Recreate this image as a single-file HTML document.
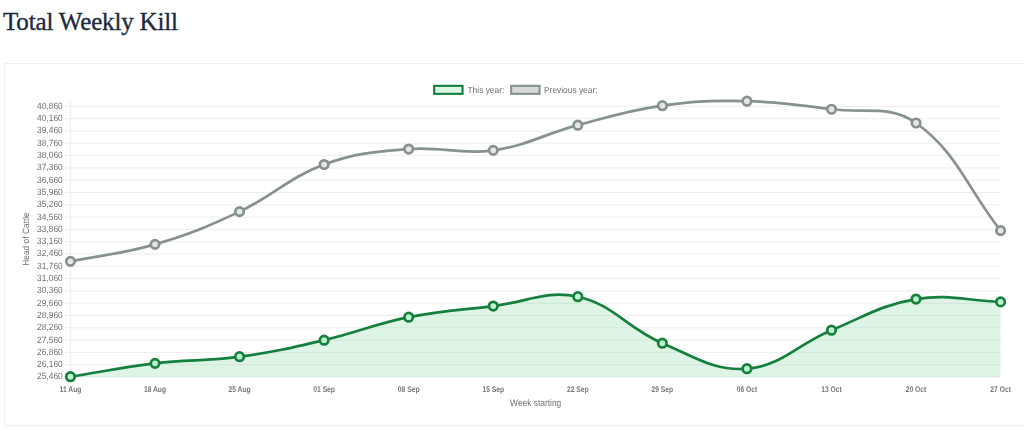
<!DOCTYPE html>
<html><head><meta charset="utf-8"><style>
html,body{margin:0;padding:0;background:#fff;width:1024px;height:431px;overflow:hidden;}
h1{position:absolute;left:3px;top:9px;margin:0;font-family:"Liberation Serif",serif;font-weight:normal;font-size:25px;color:#1c2a3f;line-height:1;letter-spacing:-0.17px;-webkit-text-stroke:0.35px #1c2a3f;}
.card{position:absolute;left:4px;top:63px;width:1040px;height:363px;border:1px solid #edeff2;border-radius:1px;box-sizing:border-box;}
svg{position:absolute;left:0;top:0;will-change:transform;} svg text{text-rendering:geometricPrecision;}
</style></head><body>
<h1 id="t">Total Weekly Kill</h1>
<div class="card"></div>
<svg width="1024" height="431" viewBox="0 0 1024 431">
<line x1="64.8" y1="106.40" x2="1000.60" y2="106.40" stroke="#e9e9e9" stroke-width="0.8"/><line x1="64.8" y1="118.70" x2="1000.60" y2="118.70" stroke="#e9e9e9" stroke-width="0.8"/><line x1="64.8" y1="131.00" x2="1000.60" y2="131.00" stroke="#e9e9e9" stroke-width="0.8"/><line x1="64.8" y1="143.30" x2="1000.60" y2="143.30" stroke="#e9e9e9" stroke-width="0.8"/><line x1="64.8" y1="155.60" x2="1000.60" y2="155.60" stroke="#e9e9e9" stroke-width="0.8"/><line x1="64.8" y1="167.90" x2="1000.60" y2="167.90" stroke="#e9e9e9" stroke-width="0.8"/><line x1="64.8" y1="180.20" x2="1000.60" y2="180.20" stroke="#e9e9e9" stroke-width="0.8"/><line x1="64.8" y1="192.50" x2="1000.60" y2="192.50" stroke="#e9e9e9" stroke-width="0.8"/><line x1="64.8" y1="204.80" x2="1000.60" y2="204.80" stroke="#e9e9e9" stroke-width="0.8"/><line x1="64.8" y1="217.10" x2="1000.60" y2="217.10" stroke="#e9e9e9" stroke-width="0.8"/><line x1="64.8" y1="229.40" x2="1000.60" y2="229.40" stroke="#e9e9e9" stroke-width="0.8"/><line x1="64.8" y1="241.70" x2="1000.60" y2="241.70" stroke="#e9e9e9" stroke-width="0.8"/><line x1="64.8" y1="254.00" x2="1000.60" y2="254.00" stroke="#e9e9e9" stroke-width="0.8"/><line x1="64.8" y1="266.30" x2="1000.60" y2="266.30" stroke="#e9e9e9" stroke-width="0.8"/><line x1="64.8" y1="278.60" x2="1000.60" y2="278.60" stroke="#e9e9e9" stroke-width="0.8"/><line x1="64.8" y1="290.90" x2="1000.60" y2="290.90" stroke="#e9e9e9" stroke-width="0.8"/><line x1="64.8" y1="303.20" x2="1000.60" y2="303.20" stroke="#e9e9e9" stroke-width="0.8"/><line x1="64.8" y1="315.50" x2="1000.60" y2="315.50" stroke="#e9e9e9" stroke-width="0.8"/><line x1="64.8" y1="327.80" x2="1000.60" y2="327.80" stroke="#e9e9e9" stroke-width="0.8"/><line x1="64.8" y1="340.10" x2="1000.60" y2="340.10" stroke="#e9e9e9" stroke-width="0.8"/><line x1="64.8" y1="352.40" x2="1000.60" y2="352.40" stroke="#e9e9e9" stroke-width="0.8"/><line x1="64.8" y1="364.70" x2="1000.60" y2="364.70" stroke="#e9e9e9" stroke-width="0.8"/><line x1="64.8" y1="377.00" x2="1000.60" y2="377.00" stroke="#e9e9e9" stroke-width="0.8"/><line x1="70.6" y1="100.30" x2="70.6" y2="377.00" stroke="#e9e9e9" stroke-width="0.8"/><path d="M70.45,376.70 C104.27,371.36 121.03,367.37 155.01,363.35 C188.68,359.37 206.01,361.30 239.57,356.70 C273.66,352.03 290.59,348.01 324.13,340.17 C358.24,332.20 374.40,324.08 408.69,317.17 C442.05,310.44 459.38,310.17 493.25,306.07 C527.03,301.98 546.11,289.75 577.80,296.70 C613.75,304.59 627.05,328.13 662.36,343.17 C694.69,356.93 713.96,371.23 746.92,368.70 C781.60,366.03 797.14,344.31 831.48,330.17 C864.78,316.46 881.15,304.90 916.04,299.07 C948.80,293.59 966.78,300.76 1000.60,301.89 L1000.60,377.00 L70.45,377.00 Z" fill="rgba(90,205,130,0.2)"/><path d="M70.45,261.35 C104.27,254.55 122.03,254.05 155.01,244.35 C189.68,234.15 206.84,227.04 239.57,211.60 C274.49,195.12 288.30,177.79 324.13,164.54 C355.95,152.77 374.59,151.93 408.69,149.07 C442.23,146.26 460.14,155.03 493.25,150.35 C527.79,145.47 543.70,134.17 577.80,125.17 C611.35,116.31 628.13,110.56 662.36,105.70 C695.77,100.96 713.15,100.46 746.92,101.17 C780.80,101.88 797.80,104.92 831.48,109.26 C865.45,113.64 890.00,104.29 916.04,122.98 C957.65,152.83 966.78,187.56 1000.60,230.61" fill="none" stroke="#879192" stroke-width="2.7"/><path d="M70.45,376.70 C104.27,371.36 121.03,367.37 155.01,363.35 C188.68,359.37 206.01,361.30 239.57,356.70 C273.66,352.03 290.59,348.01 324.13,340.17 C358.24,332.20 374.40,324.08 408.69,317.17 C442.05,310.44 459.38,310.17 493.25,306.07 C527.03,301.98 546.11,289.75 577.80,296.70 C613.75,304.59 627.05,328.13 662.36,343.17 C694.69,356.93 713.96,371.23 746.92,368.70 C781.60,366.03 797.14,344.31 831.48,330.17 C864.78,316.46 881.15,304.90 916.04,299.07 C948.80,293.59 966.78,300.76 1000.60,301.89" fill="none" stroke="#15803d" stroke-width="2.7"/><circle cx="70.45" cy="261.35" r="4.25" fill="#e6e6e6" stroke="#879192" stroke-width="2.7"/><circle cx="155.01" cy="244.35" r="4.25" fill="#e6e6e6" stroke="#879192" stroke-width="2.7"/><circle cx="239.57" cy="211.60" r="4.25" fill="#e6e6e6" stroke="#879192" stroke-width="2.7"/><circle cx="324.13" cy="164.54" r="4.25" fill="#e6e6e6" stroke="#879192" stroke-width="2.7"/><circle cx="408.69" cy="149.07" r="4.25" fill="#e6e6e6" stroke="#879192" stroke-width="2.7"/><circle cx="493.25" cy="150.35" r="4.25" fill="#e6e6e6" stroke="#879192" stroke-width="2.7"/><circle cx="577.80" cy="125.17" r="4.25" fill="#e6e6e6" stroke="#879192" stroke-width="2.7"/><circle cx="662.36" cy="105.70" r="4.25" fill="#e6e6e6" stroke="#879192" stroke-width="2.7"/><circle cx="746.92" cy="101.17" r="4.25" fill="#e6e6e6" stroke="#879192" stroke-width="2.7"/><circle cx="831.48" cy="109.26" r="4.25" fill="#e6e6e6" stroke="#879192" stroke-width="2.7"/><circle cx="916.04" cy="122.98" r="4.25" fill="#e6e6e6" stroke="#879192" stroke-width="2.7"/><circle cx="1000.60" cy="230.61" r="4.25" fill="#e6e6e6" stroke="#879192" stroke-width="2.7"/><circle cx="70.45" cy="376.70" r="4.25" fill="#bdf3cf" stroke="#15803d" stroke-width="2.7"/><circle cx="155.01" cy="363.35" r="4.25" fill="#bdf3cf" stroke="#15803d" stroke-width="2.7"/><circle cx="239.57" cy="356.70" r="4.25" fill="#bdf3cf" stroke="#15803d" stroke-width="2.7"/><circle cx="324.13" cy="340.17" r="4.25" fill="#bdf3cf" stroke="#15803d" stroke-width="2.7"/><circle cx="408.69" cy="317.17" r="4.25" fill="#bdf3cf" stroke="#15803d" stroke-width="2.7"/><circle cx="493.25" cy="306.07" r="4.25" fill="#bdf3cf" stroke="#15803d" stroke-width="2.7"/><circle cx="577.80" cy="296.70" r="4.25" fill="#bdf3cf" stroke="#15803d" stroke-width="2.7"/><circle cx="662.36" cy="343.17" r="4.25" fill="#bdf3cf" stroke="#15803d" stroke-width="2.7"/><circle cx="746.92" cy="368.70" r="4.25" fill="#bdf3cf" stroke="#15803d" stroke-width="2.7"/><circle cx="831.48" cy="330.17" r="4.25" fill="#bdf3cf" stroke="#15803d" stroke-width="2.7"/><circle cx="916.04" cy="299.07" r="4.25" fill="#bdf3cf" stroke="#15803d" stroke-width="2.7"/><circle cx="1000.60" cy="301.89" r="4.25" fill="#bdf3cf" stroke="#15803d" stroke-width="2.7"/>
<g font-family="Liberation Sans, sans-serif" font-size="8.4" fill="#6f6f6f"><text transform="translate(62.7,108.85) scale(1,1.08)" text-anchor="end">40,860</text><text transform="translate(62.7,121.15) scale(1,1.08)" text-anchor="end">40,160</text><text transform="translate(62.7,133.45) scale(1,1.08)" text-anchor="end">39,460</text><text transform="translate(62.7,145.75) scale(1,1.08)" text-anchor="end">38,760</text><text transform="translate(62.7,158.05) scale(1,1.08)" text-anchor="end">38,060</text><text transform="translate(62.7,170.35) scale(1,1.08)" text-anchor="end">37,360</text><text transform="translate(62.7,182.65) scale(1,1.08)" text-anchor="end">36,660</text><text transform="translate(62.7,194.95) scale(1,1.08)" text-anchor="end">35,960</text><text transform="translate(62.7,207.25) scale(1,1.08)" text-anchor="end">35,260</text><text transform="translate(62.7,219.55) scale(1,1.08)" text-anchor="end">34,560</text><text transform="translate(62.7,231.85) scale(1,1.08)" text-anchor="end">33,860</text><text transform="translate(62.7,244.15) scale(1,1.08)" text-anchor="end">33,160</text><text transform="translate(62.7,256.45) scale(1,1.08)" text-anchor="end">32,460</text><text transform="translate(62.7,268.75) scale(1,1.08)" text-anchor="end">31,760</text><text transform="translate(62.7,281.05) scale(1,1.08)" text-anchor="end">31,060</text><text transform="translate(62.7,293.35) scale(1,1.08)" text-anchor="end">30,360</text><text transform="translate(62.7,305.65) scale(1,1.08)" text-anchor="end">29,660</text><text transform="translate(62.7,317.95) scale(1,1.08)" text-anchor="end">28,960</text><text transform="translate(62.7,330.25) scale(1,1.08)" text-anchor="end">28,260</text><text transform="translate(62.7,342.55) scale(1,1.08)" text-anchor="end">27,560</text><text transform="translate(62.7,354.85) scale(1,1.08)" text-anchor="end">26,860</text><text transform="translate(62.7,367.15) scale(1,1.08)" text-anchor="end">26,160</text><text transform="translate(62.7,379.45) scale(1,1.08)" text-anchor="end">25,460</text></g>
<g font-family="Liberation Sans, sans-serif" font-size="8.2" font-weight="bold" fill="#777"><text transform="translate(70.45,392.1) scale(0.82,1)" text-anchor="middle">11 Aug</text><text transform="translate(155.01,392.1) scale(0.82,1)" text-anchor="middle">18 Aug</text><text transform="translate(239.57,392.1) scale(0.82,1)" text-anchor="middle">25 Aug</text><text transform="translate(324.13,392.1) scale(0.82,1)" text-anchor="middle">01 Sep</text><text transform="translate(408.69,392.1) scale(0.82,1)" text-anchor="middle">08 Sep</text><text transform="translate(493.25,392.1) scale(0.82,1)" text-anchor="middle">15 Sep</text><text transform="translate(577.80,392.1) scale(0.82,1)" text-anchor="middle">22 Sep</text><text transform="translate(662.36,392.1) scale(0.82,1)" text-anchor="middle">29 Sep</text><text transform="translate(746.92,392.1) scale(0.82,1)" text-anchor="middle">06 Oct</text><text transform="translate(831.48,392.1) scale(0.82,1)" text-anchor="middle">13 Oct</text><text transform="translate(916.04,392.1) scale(0.82,1)" text-anchor="middle">20 Oct</text><text transform="translate(1000.60,392.1) scale(0.82,1)" text-anchor="middle">27 Oct</text></g>
<text transform="translate(535.7,405.8) scale(0.875,1)" text-anchor="middle" font-family="Liberation Sans, sans-serif" font-size="9.6" fill="#6f6f6f">Week starting</text>
<text transform="translate(29.4,239) rotate(-90) scale(1,1.08)" text-anchor="middle" font-family="Liberation Sans, sans-serif" font-size="8.4" fill="#6f6f6f">Head of Cattle</text>
<rect x="434.15" y="85.85" width="28.4" height="8.0" fill="#dcf5e4" stroke="#15803d" stroke-width="2.1"/>
<text transform="translate(467.5,92.5) scale(1,1.06)" font-family="Liberation Sans, sans-serif" font-size="8.4" fill="#6f6f6f">This year:</text>
<rect x="511.15" y="85.85" width="28.4" height="8.0" fill="#d9d9d9" stroke="#879192" stroke-width="2.1"/>
<text transform="translate(544,92.5) scale(1,1.06)" font-family="Liberation Sans, sans-serif" font-size="8.4" fill="#6f6f6f">Previous year:</text>
</svg>
</body></html>
